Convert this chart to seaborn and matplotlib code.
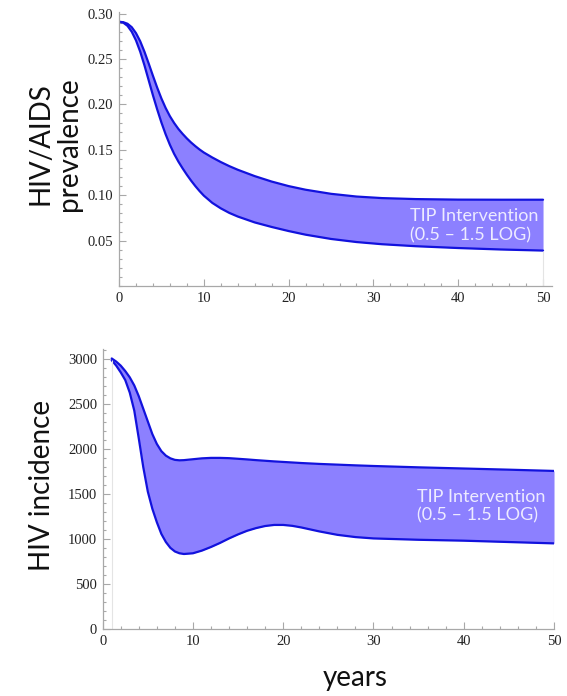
import matplotlib
matplotlib.use("Agg")
import matplotlib.pyplot as plt
import seaborn as sns
from matplotlib.ticker import MultipleLocator

# HIV/AIDS prevalence band (TIP intervention 0.5 - 1.5 log)
prev_years = [0, 0.5, 1, 1.5, 2, 2.5, 3, 3.5, 4, 4.5, 5, 5.5, 6, 6.5, 7, 7.5, 8, 8.5, 9, 9.5,
              10, 11, 12, 13, 14, 16, 18, 20, 22, 25, 28, 31, 35, 40, 45, 50]
prev_upper = [0.291, 0.2905, 0.2888, 0.2850, 0.2785, 0.2695, 0.2580, 0.2450, 0.2315, 0.2185,
              0.2065, 0.1960, 0.1870, 0.1795, 0.1730, 0.1675, 0.1625, 0.1580, 0.1540, 0.1503,
              0.1470, 0.1415, 0.1365, 0.1320, 0.1280, 0.1210, 0.1150, 0.1100, 0.1060, 0.1015,
              0.0985, 0.0968, 0.0957, 0.0951, 0.0950, 0.0950]
prev_lower = [0.291, 0.2900, 0.2865, 0.2800, 0.2705, 0.2580, 0.2430, 0.2265, 0.2100, 0.1945,
              0.1800, 0.1670, 0.1555, 0.1455, 0.1370, 0.1295, 0.1225, 0.1160, 0.1100, 0.1045,
              0.0995, 0.0915, 0.0855, 0.0805, 0.0765, 0.0700, 0.0650, 0.0605, 0.0565, 0.0518,
              0.0484, 0.0460, 0.0438, 0.0418, 0.0402, 0.0390]

# HIV incidence band
inc_years = [1, 1.5, 2, 2.5, 3, 3.5, 4, 4.5, 5, 5.5, 6, 6.5, 7, 7.5, 8, 8.5, 9, 10, 11, 12,
             13, 14, 15, 16, 17, 18, 19, 20, 21, 22, 23, 24, 26, 28, 30, 35, 40, 45, 50]
inc_upper = [3010, 2975, 2930, 2870, 2800, 2710, 2590, 2450, 2310, 2170, 2060, 1980, 1930,
             1900, 1883, 1878, 1880, 1890, 1900, 1905, 1905, 1902, 1895, 1888, 1880, 1873,
             1866, 1860, 1854, 1848, 1843, 1838, 1830, 1822, 1815, 1800, 1787, 1774, 1760]
inc_lower = [2990, 2930, 2855, 2770, 2630, 2430, 2120, 1800, 1530, 1340, 1190, 1060, 970,
             905, 865, 845, 837, 845, 875, 915, 960, 1010, 1055, 1095, 1125, 1148, 1160,
             1160, 1150, 1132, 1110, 1088, 1050, 1025, 1010, 995, 985, 970, 955]

band_label = "TIP Intervention\n(0.5 – 1.5 LOG)"

line_color = "#1212DD"
fill_color = "#8C80FF"
axis_color = "#A8A8A8"
label_font = ["Lato", "DejaVu Sans"]
tick_font = ["Liberation Serif", "DejaVu Serif"]

sns.set_style("white")

fig = plt.figure(figsize=(5.67, 6.96), dpi=100)
ax1 = fig.add_axes([0.2099, 0.5891, 0.7628, 0.394])
ax2 = fig.add_axes([0.1811, 0.0958, 0.796, 0.4034])


def style_axis(ax):
    for side in ["top", "right"]:
        ax.spines[side].set_visible(False)
    for side in ["left", "bottom"]:
        ax.spines[side].set_color(axis_color)
        ax.spines[side].set_linewidth(0.9)
    ax.xaxis.set_major_locator(MultipleLocator(10))
    ax.xaxis.set_minor_locator(MultipleLocator(2))
    ax.tick_params(which="both", direction="in", color=axis_color, width=0.8,
                   labelsize=10.5, labelcolor="#222222", pad=4)
    ax.tick_params(which="major", length=5)
    ax.tick_params(which="minor", length=2.5)
    ax.tick_params(axis="both", which="both", bottom=True, left=True)
    for lab in ax.get_xticklabels() + ax.get_yticklabels():
        lab.set_family(tick_font)


# top panel: prevalence
ax1.fill_between(prev_years, prev_lower, prev_upper, color=fill_color, lw=0)
sns.lineplot(x=prev_years, y=prev_upper, ax=ax1, color=line_color, linewidth=1.6)
sns.lineplot(x=prev_years, y=prev_lower, ax=ax1, color=line_color, linewidth=1.6)
ax1.vlines(prev_years[-1], 0, prev_lower[-1], color="#E4E4E4", lw=0.8)
ax1.set_xlim(0, 51)
ax1.set_ylim(0, 0.302)
ax1.yaxis.set_minor_locator(MultipleLocator(0.01))
ax1.set_yticks([0.05, 0.10, 0.15, 0.20, 0.25, 0.30])
ax1.set_yticklabels(["0.05", "0.10", "0.15", "0.20", "0.25", "0.30"])
style_axis(ax1)
ax1.text(34.3, 0.0665, band_label, color="#EDEBFF", fontsize=13, family=label_font,
         va="center", ha="left", linespacing=1.2)
ax1.set_ylabel("HIV/AIDS\nprevalence", fontsize=20, family=label_font, color="#111111",
               linespacing=1.1, va="center", ha="center")
ax1.yaxis.set_label_coords(-0.148, 0.518)

# bottom panel: incidence
ax2.fill_between(inc_years, inc_lower, inc_upper, color=fill_color, lw=0)
sns.lineplot(x=inc_years, y=inc_upper, ax=ax2, color=line_color, linewidth=1.6)
sns.lineplot(x=inc_years, y=inc_lower, ax=ax2, color=line_color, linewidth=1.6)
ax2.vlines(inc_years[0], 0, inc_lower[0], color="#E4E4E4", lw=0.8)
ax2.vlines(inc_years[-1], 0, inc_lower[-1], color="#E4E4E4", lw=0.8)
ax2.set_xlim(0, 50)
ax2.set_ylim(0, 3120)
ax2.yaxis.set_major_locator(MultipleLocator(500))
ax2.yaxis.set_minor_locator(MultipleLocator(100))
style_axis(ax2)
ax2.text(34.8, 1365, band_label, color="#EDEBFF", fontsize=13, family=label_font,
         va="center", ha="left", linespacing=1.2)
ax2.set_ylabel("HIV incidence", fontsize=20, family=label_font, color="#111111",
               va="center", ha="center")
ax2.yaxis.set_label_coords(-0.1345, 0.514)
ax2.set_xlabel("years", fontsize=20, family=label_font, color="#111111",
               va="center", ha="center")
ax2.xaxis.set_label_coords(0.559, -0.173)

fig.savefig("out.png", dpi=100, facecolor="white")
